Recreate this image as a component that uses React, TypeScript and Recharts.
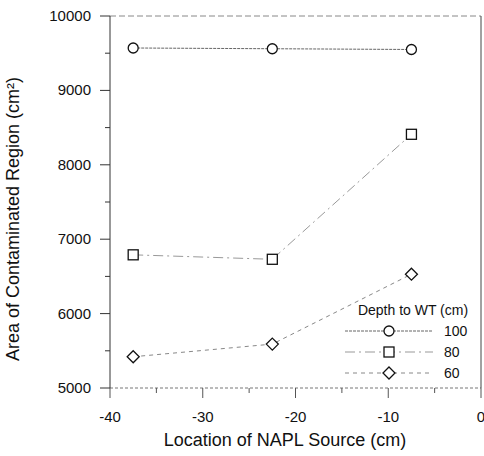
import { Legend, Line, LineChart, XAxis, YAxis } from 'recharts';

const sourceLocation = [-37.5, -22.5, -7.5];
const depth100 = [9570, 9560, 9550];
const depth80 = [6790, 6730, 8410];
const depth60 = [5420, 5590, 6530];
const depthLabels = ['100', '80', '60'];

const xTicks = [-40, -35, -30, -25, -20, -15, -10, -5, 0];
const yTicks = [5000, 5500, 6000, 6500, 7000, 7500, 8000, 8500, 9000, 9500, 10000];

const data = sourceLocation.map((x, i) => ({
  x,
  d100: depth100[i],
  d80: depth80[i],
  d60: depth60[i],
}));

const FONT = '"Liberation Sans", Arial, sans-serif';
const INK = '#111';

type Shape = 'circle' | 'square' | 'diamond';

const series: { key: string; shape: Shape; dash: string; stroke: string }[] = [
  { key: 'd100', shape: 'circle', dash: '3 1', stroke: '#666' },
  { key: 'd80', shape: 'square', dash: '10 4 2 4', stroke: '#999' },
  { key: 'd60', shape: 'diamond', dash: '4 4', stroke: '#888' },
];

function marker(shape: Shape, cx: number, cy: number, key?: string) {
  const common = { fill: '#fff', stroke: INK, strokeWidth: 1.3 };
  if (shape === 'circle') return <circle key={key} cx={cx} cy={cy} r={5} {...common} />;
  if (shape === 'square')
    return <rect key={key} x={cx - 5} y={cy - 5} width={10} height={10} {...common} />;
  return (
    <path
      key={key}
      d={`M${cx},${cy - 6}L${cx + 6},${cy}L${cx},${cy + 6}L${cx - 6},${cy}Z`}
      {...common}
    />
  );
}

function YTick(props: any) {
  const { x, y, payload } = props;
  const major = payload.value % 1000 === 0;
  const axisX = x + 19;
  return (
    <g>
      <line x1={axisX - (major ? 10 : 5)} x2={axisX} y1={y} y2={y} stroke="#333" />
      {major && (
        <text x={x} y={y + 5} textAnchor="end" fontSize={15} fontFamily={FONT} fill={INK}>
          {payload.value}
        </text>
      )}
    </g>
  );
}

function XTick(props: any) {
  const { x, y, payload } = props;
  const major = payload.value % 10 === 0;
  const axisY = y - 18;
  return (
    <g>
      <line x1={x} x2={x} y1={axisY} y2={axisY + (major ? 10 : 5)} stroke="#555" />
      {major && (
        <text x={x} y={y + 16} textAnchor="middle" fontSize={15} fontFamily={FONT} fill={INK}>
          {payload.value}
        </text>
      )}
    </g>
  );
}

const renderLegend = () => (
  <div style={{ fontFamily: FONT, color: INK }}>
    <div style={{ fontSize: 14, height: 19, lineHeight: '19px', textAlign: 'center' }}>
      Depth to WT (cm)
    </div>
    {series.map((s, i) => (
      <div key={s.key} style={{ display: 'flex', alignItems: 'center', height: 21 }}>
        <svg width={90} height={14}>
          <line x1={2} x2={90} y1={7} y2={7} stroke={s.stroke} strokeDasharray={s.dash} />
          {marker(s.shape, 46, 7)}
        </svg>
        <span style={{ marginLeft: 11, fontSize: 14 }}>{depthLabels[i]}</span>
      </div>
    ))}
  </div>
);

const labelStyle = {
  position: 'absolute' as const,
  fontFamily: FONT,
  fontSize: 18,
  color: INK,
  whiteSpace: 'nowrap' as const,
  lineHeight: '20px',
};

export default function App() {
  return (
    <div style={{ position: 'absolute', left: 0, top: 0, width: 484, height: 456, background: '#fff' }}>
      <LineChart
        width={484}
        height={456}
        data={data}
        margin={{ top: 15, right: 2, left: 0, bottom: 0 }}
      >
        <XAxis
          dataKey="x"
          type="number"
          domain={[-40, 0]}
          ticks={xTicks}
          interval={0}
          height={68}
          tickSize={10}
          tickMargin={8}
          tickLine={false}
          tick={<XTick />}
          axisLine={{ stroke: '#777', strokeDasharray: '3 2' }}
        />
        <XAxis
          xAxisId="top"
          dataKey="x"
          type="number"
          orientation="top"
          domain={[-40, 0]}
          height={1}
          tick={false}
          tickLine={false}
          axisLine={{ stroke: '#888', strokeDasharray: '6 3' }}
        />
        <YAxis
          type="number"
          domain={[5000, 10000]}
          ticks={yTicks}
          interval={0}
          width={110}
          tickSize={10}
          tickMargin={9}
          tickLine={false}
          tick={<YTick />}
          axisLine={{ stroke: '#333' }}
        />
        <YAxis
          yAxisId="right"
          orientation="right"
          type="number"
          domain={[5000, 10000]}
          width={1}
          tick={false}
          tickLine={false}
          axisLine={{ stroke: '#444' }}
        />
        <Legend
          layout="vertical"
          align="center"
          verticalAlign="middle"
          wrapperStyle={{ left: 343, top: 301, width: 140 }}
          content={renderLegend}
        />
        {series.map((s) => (
          <Line
            key={s.key}
            dataKey={s.key}
            type="linear"
            stroke={s.stroke}
            strokeWidth={1}
            strokeDasharray={s.dash}
            isAnimationActive={false}
            dot={(p: any) => marker(s.shape, p.cx, p.cy, `${s.key}-${p.index}`)}
            activeDot={false}
          />
        ))}
      </LineChart>
      <div style={{ ...labelStyle, left: 85, width: 400, top: 430, textAlign: 'center' }}>
        Location of NAPL Source (cm)
      </div>
      <div
        style={{
          ...labelStyle,
          left: 13 - 200,
          width: 400,
          top: 219 - 10,
          textAlign: 'center',
          transform: 'rotate(-90deg)',
        }}
      >
        Area of Contaminated Region (cm²)
      </div>
    </div>
  );
}
